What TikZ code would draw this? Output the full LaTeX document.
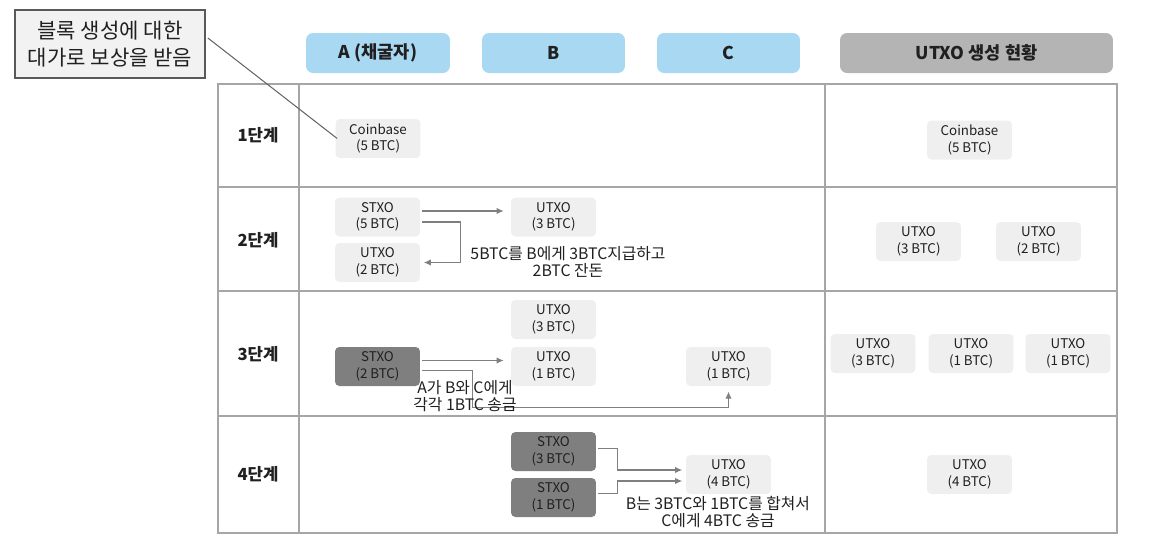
\documentclass[tikz,border=0pt]{standalone}
\usepackage{fontspec}
\setmainfont{Noto Sans CJK KR}
\usepackage{tikz}
\usetikzlibrary{arrows.meta,calc}
\usepackage{xcolor}

\definecolor{boxgray}{HTML}{EFEFEF}
\definecolor{spentgray}{HTML}{7F7F7F}
\definecolor{headblue}{HTML}{A9D8F2}
\definecolor{headgray}{HTML}{B4B4B4}
\definecolor{gridgray}{HTML}{A6A6A6}
\definecolor{linegray}{HTML}{7F7F7F}
\definecolor{notegray}{HTML}{F2F2F2}
\definecolor{inkgray}{HTML}{202020}

\begin{document}
\begin{tikzpicture}[x=0.02cm,y=-0.02cm,>={Latex[length=4pt,width=3.6pt]},
	box/.style={fill=boxgray,text=inkgray,rounded corners=2.5pt,minimum width=1.7cm,minimum height=0.78cm,inner sep=0pt,align=center,font=\fontsize{7.6}{9.4}\selectfont},
	spent/.style={box,fill=spentgray},
	head/.style={fill=headblue,text=inkgray,rounded corners=4pt,minimum width=2.88cm,minimum height=0.8cm,inner sep=0pt,font=\fontsize{10}{12}\selectfont\bfseries},
	stage/.style={text=inkgray,font=\fontsize{9.5}{12}\selectfont\bfseries},
	memo/.style={text=inkgray,align=center,font=\fontsize{9}{10}\selectfont},
	flow/.style={->,draw=linegray,line width=0.6pt,shorten >=1pt},
	grid/.style={draw=gridgray,line width=0.9pt}]
	
	\useasboundingbox (0,0) rectangle (1164,552);
	
	%----------------------------------------
	% Table frame
	%----------------------------------------
	\draw[grid] (218,84) rectangle (1117,533);
	\draw[grid] (299,84) -- (299,533);
	\draw[grid] (825,84) -- (825,533);
	\foreach \ypos in {187,291,416}
	\draw[grid] (218,\ypos) -- (1117,\ypos);
	
	%----------------------------------------
	% Column headers
	%----------------------------------------
	\node[head] (hA) at (378,53) {A (채굴자)};
	\node[head,minimum width=2.86cm] (hB) at (553.5,53) {B};
	\node[head,minimum width=2.86cm] (hC) at (728.5,53) {C};
	\node[head,fill=headgray,minimum width=5.46cm] (hU) at (976.5,53) {UTXO 생성 현황};
	
	%----------------------------------------
	% Stage labels
	%----------------------------------------
	\node[stage] (st1) at (258,135) {1단계};
	\node[stage] (st2) at (258,240) {2단계};
	\node[stage] (st3) at (258,354) {3단계};
	\node[stage] (st4) at (258,474) {4단계};
	
	%----------------------------------------
	% Stage 1
	%----------------------------------------
	\node[box] (cb1) at (378,138.5) {Coinbase\\(5 BTC)};
	\node[box] (cbR) at (969.5,140) {Coinbase\\(5 BTC)};
	
	% callout for the coinbase reward
	\node[draw=black!65,line width=1pt,fill=notegray,text=inkgray,minimum width=3.8cm,minimum height=1.36cm,inner sep=0pt,align=center,font=\fontsize{12}{15.5}\selectfont] (note) at (110,44) {블록 생성에 대한\\대가로 보상을 받음};
	\draw[black!60,line width=0.6pt] ($(note.east)+(2,-6)$) -- ($(cb1.west)+(2,0)$);
	
	%----------------------------------------
	% Stage 2
	%----------------------------------------
	\node[box] (s2) at (377.5,217) {STXO\\(5 BTC)};
	\node[box] (u2b) at (553.5,217) {UTXO\\(3 BTC)};
	\node[box] (u2a) at (377.5,262.5) {UTXO\\(2 BTC)};
	\node[box] (r2a) at (918.5,241.5) {UTXO\\(3 BTC)};
	\node[box] (r2b) at (1038.5,241.5) {UTXO\\(2 BTC)};
	
	\draw[flow,shorten >=4pt] ($(s2.east)+(2,-6)$) -- ($(u2b.west)+(0,-6)$);
	\draw[flow,shorten >=2pt] ($(s2.east)+(2,5)$) -- ++(38,0) |- (u2a.east);
	\node[memo] (m2) at (568,262) {5BTC를 B에게 3BTC지급하고\\2BTC 잔돈};
	
	%----------------------------------------
	% Stage 3
	%----------------------------------------
	\node[box] (u3b3) at (553.5,319.5) {UTXO\\(3 BTC)};
	\node[spent] (s3) at (377.5,366.5) {STXO\\(2 BTC)};
	\node[box] (u3b1) at (553.5,366.5) {UTXO\\(1 BTC)};
	\node[box] (u3c) at (728.5,366.5) {UTXO\\(1 BTC)};
	\node[box] (r3a) at (873,353.5) {UTXO\\(3 BTC)};
	\node[box] (r3b) at (971,353.5) {UTXO\\(1 BTC)};
	\node[box] (r3c) at (1068,353.5) {UTXO\\(1 BTC)};
	
	\draw[flow,shorten >=4pt] ($(s3.east)+(2,-6)$) -- ($(u3b1.west)+(0,-6)$);
	\draw[flow,shorten >=3pt] ($(s3.east)+(2,4)$) -- ++(50,0) |- ($(u3c.south)+(0,21)$) -- (u3c.south);
	\node[memo] (m3) at (465,396) {A가 B와 C에게\\각각 1BTC 송금};
	
	%----------------------------------------
	% Stage 4
	%----------------------------------------
	\node[spent] (s4a) at (553.5,451.5) {STXO\\(3 BTC)};
	\node[spent] (s4b) at (553.5,497.5) {STXO\\(1 BTC)};
	\node[box] (u4) at (728.5,474.5) {UTXO\\(4 BTC)};
	\node[box] (r4) at (969.5,474.5) {UTXO\\(4 BTC)};
	
	\draw[flow,shorten >=2pt] ($(s4a.east)+(2,-3)$) -- ++(19,0) |- ($(u4.west)+(0,-4.5)$);
	\draw[flow,shorten >=2pt] ($(s4b.east)+(2,-4)$) -- ++(19,0) |- ($(u4.west)+(0,6.5)$);
	\node[memo] (m4) at (718,512) {B는 3BTC와 1BTC를 합쳐서\\C에게 4BTC 송금};
	
\end{tikzpicture}
\end{document}
